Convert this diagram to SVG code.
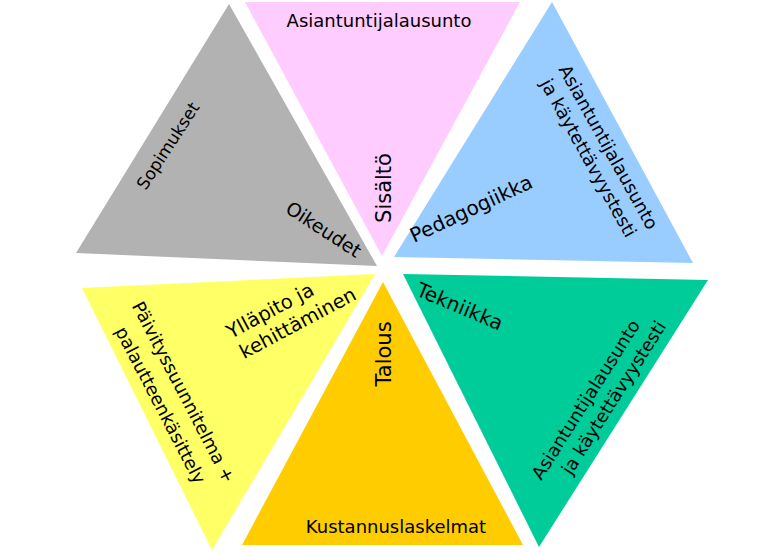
<svg xmlns="http://www.w3.org/2000/svg" width="773" height="552" viewBox="0 0 773 552">
<style>
text{font-family:"DejaVu Sans","Verdana",sans-serif;fill:#000}
.d{font-size:18px}
.c{font-size:20px}
.b{font-size:21px}
</style>
<rect x="0" y="0" width="773" height="552" fill="#fff"/>
<g id="oikeudet">
<polygon points="229,4 76,253 377,266" fill="#B2B2B2"/>
<text class="d" style="font-size:17px" text-anchor="middle" transform="translate(173,149) rotate(-57)">Sopimukset</text>
<text class="c" style="font-size:19px" text-anchor="middle" transform="translate(320,235) rotate(33)">Oikeudet</text>
</g>
<g id="sisalto">
<polygon points="245,2 520,2 382,256" fill="#FFCCFF"/>
<text class="d" x="379" y="27" text-anchor="middle">Asiantuntijalausunto</text>
<text class="b" text-anchor="middle" transform="translate(391,188) rotate(-90)">Sisältö</text>
</g>
<g id="pedagogiikka">
<polygon points="552,2 394,257 693,263" fill="#99CCFF"/>
<text class="c" transform="translate(414,243) rotate(-25)">Pedagogiikka</text>
<text class="d" text-anchor="middle" transform="translate(603,150) rotate(61)">Asiantuntijalausunto</text>
<text class="d" text-anchor="middle" transform="translate(583,161) rotate(61)">ja käytettävyystesti</text>
</g>
<g id="yllapito">
<polygon points="82,288 375,274 212,550" fill="#FFFF66"/>
<g transform="translate(231,339) rotate(-28)">
<text class="c" style="font-size:19.5px" x="0" y="0">Ylläpito ja</text>
<text class="c" style="font-size:19.5px" x="2" y="24">kehittäminen</text>
</g>
<text class="d" text-anchor="middle" transform="translate(178,395) rotate(62.5)">Päivityssuunnitelma +</text>
<text class="d" text-anchor="middle" transform="translate(155,408) rotate(62.5)">palautteenkäsittely</text>
</g>
<g id="talous">
<polygon points="383,282 242,545 523,545" fill="#FFCC00"/>
<text class="b" text-anchor="middle" transform="translate(391,354) rotate(-90)">Talous</text>
<text class="d" x="396" y="533" text-anchor="middle">Kustannuslaskelmat</text>
</g>
<g id="tekniikka">
<polygon points="403,274 708,280 539,547" fill="#00CC99"/>
<text class="c" transform="translate(415,295) rotate(23)">Tekniikka</text>
<text class="d" text-anchor="middle" transform="translate(591,403) rotate(-57.5)">Asiantuntijalausunto</text>
<text class="d" text-anchor="middle" transform="translate(619,401) rotate(-57.5)">ja käytettävyystesti</text>
</g>
</svg>
